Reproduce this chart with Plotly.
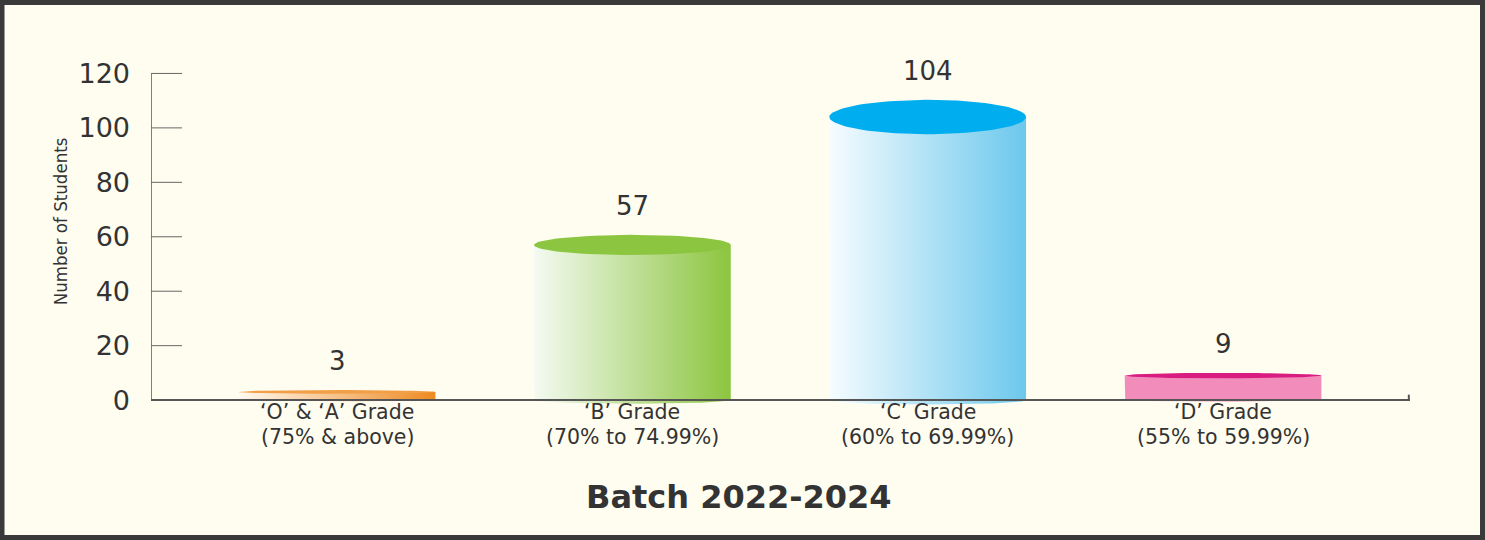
import numpy as np
import plotly.graph_objects as go

# ---- data ----
cat_line1 = ["‘O’ & ‘A’ Grade", "‘B’ Grade", "‘C’ Grade", "‘D’ Grade"]
cat_line2 = ["(75% & above)", "(70% to 74.99%)", "(60% to 69.99%)", "(55% to 59.99%)"]
students = [3, 57, 104, 9]
y_ticks = [0, 20, 40, 60, 80, 100, 120]
title_text = "Batch 2022-2024"
y_title = "Number of Students"

# ---- styles ----
body_light = ["#FFF9F0", "#F4FAF2", "#F6FCFF", "#F28DBB"]
body_dark = ["#EE8A22", "#8CC53F", "#6CC8EC", "#F28DBB"]
top_color = ["#F2A048", "#8CC53F", "#00AEEF", "#D91C80"]
rim_depth = [0.7, 3.7, 6.3, 1.0]   # half-height of top ellipse (y units)
bot_depth = [0.4, 1.3, 1.6, 0.5]
half_w = 0.333
BG = "#FFFDF0"
TXT = "#333333"
WIDE = "DejaVu Sans, Liberation Sans, Arial"

W, H = 1485, 540
L, R = 151, 75
X_RANGE = [-0.63, 3.633]
Y_RANGE = [-4, 122]
px_per_unit = 2.725
y0_px = 400
T = y0_px - Y_RANGE[1] * px_per_unit
B = H - (y0_px - Y_RANGE[0] * px_per_unit)
PW = W - L - R
PH = H - T - B

fig = go.Figure()
t = np.linspace(0, np.pi, 60)
for i, v in enumerate(students):
    c = i
    bx = c - half_w * np.cos(t)
    by = -bot_depth[i] * np.sin(t)
    xs = np.concatenate([[c - half_w], bx, [c + half_w, c - half_w]])
    ys = np.concatenate([[v], by, [v, v]])
    fig.add_trace(go.Scatter(
        x=xs, y=ys, mode="lines", line=dict(width=0), fill="toself",
        fillgradient=dict(type="horizontal",
                          colorscale=[[0, body_light[i]], [1, body_dark[i]]]),
        hoverinfo="skip", showlegend=False))
    tt = np.linspace(0, 2 * np.pi, 100)
    fig.add_trace(go.Scatter(
        x=c + half_w * np.cos(tt), y=v + rim_depth[i] * np.sin(tt),
        mode="lines", line=dict(width=0), fill="toself",
        fillcolor=top_color[i], hoverinfo="skip", showlegend=False))
    fig.add_annotation(x=c, y=v + rim_depth[i], xref="x", yref="y",
                       text=str(v), showarrow=False, yanchor="bottom", yshift=12,
                       font=dict(family=WIDE, size=26, color=TXT))
    fig.add_annotation(x=c, y=0, xref="x", yref="y", text=cat_line1[i],
                       showarrow=False, yanchor="middle", yshift=-12,
                       font=dict(family=WIDE, size=20.5, color=TXT))
    fig.add_annotation(x=c, y=0, xref="x", yref="y", text=cat_line2[i],
                       showarrow=False, yanchor="middle", yshift=-37,
                       font=dict(family=WIDE, size=20.5, color=TXT))

tick_len_units = 31 / PW * (X_RANGE[1] - X_RANGE[0])
shapes = [
    dict(type="line", xref="x", yref="y", x0=X_RANGE[0], x1=X_RANGE[0],
         y0=0, y1=y_ticks[-1], line=dict(color="#555555", width=1.5)),
    dict(type="line", xref="x", yref="y", x0=X_RANGE[0], x1=X_RANGE[1],
         y0=0, y1=0, line=dict(color="#555555", width=2)),
    dict(type="line", xref="x", yref="y", x0=X_RANGE[1] - 0.004, x1=X_RANGE[1] - 0.004,
         y0=0, y1=2, line=dict(color="#555555", width=2)),
]
for tv in y_ticks[1:]:
    shapes.append(dict(type="line", xref="x", yref="y", x0=X_RANGE[0],
                       x1=X_RANGE[0] + tick_len_units, y0=tv, y1=tv,
                       line=dict(color="#666666", width=1)))


def px_to_paper_x(X):
    return (X - L) / PW


def px_to_paper_y(Y):
    return (H - B - Y) / PH


shapes.append(dict(type="rect", xref="paper", yref="paper",
                   x0=px_to_paper_x(2), x1=px_to_paper_x(W - 2.5),
                   y0=px_to_paper_y(H - 2.5), y1=px_to_paper_y(2),
                   line=dict(color="#3A3A3A", width=5), fillcolor="rgba(0,0,0,0)"))

fig.add_annotation(x=px_to_paper_x(60), y=px_to_paper_y(221), xref="paper", yref="paper",
                   xanchor="center", yanchor="middle",
                   text=y_title, textangle=-90, showarrow=False,
                   font=dict(family="DejaVu Sans Condensed, Liberation Sans, Arial",
                             size=18.5, color=TXT))
fig.add_annotation(x=px_to_paper_x(739), y=px_to_paper_y(497), xref="paper", yref="paper",
                   xanchor="center", yanchor="middle",
                   text="<b>" + title_text + "</b>", showarrow=False,
                   font=dict(family=WIDE, size=32, color=TXT))

fig.update_layout(
    width=W, height=H, margin=dict(l=L, r=R, t=T, b=B, autoexpand=False),
    paper_bgcolor=BG, plot_bgcolor=BG, shapes=shapes, showlegend=False,
    xaxis=dict(range=X_RANGE, showgrid=False, zeroline=False, showline=False,
               showticklabels=False, fixedrange=True),
    yaxis=dict(range=Y_RANGE, showgrid=False, zeroline=False, showline=False,
               tickvals=y_ticks, ticks="", ticklabelstandoff=20,
               tickfont=dict(family=WIDE, size=27, color=TXT)),
)
fig.write_html("out.html", config={"displayModeBar": False},
               post_script="document.body.style.margin='0';document.body.style.overflow='hidden';")
